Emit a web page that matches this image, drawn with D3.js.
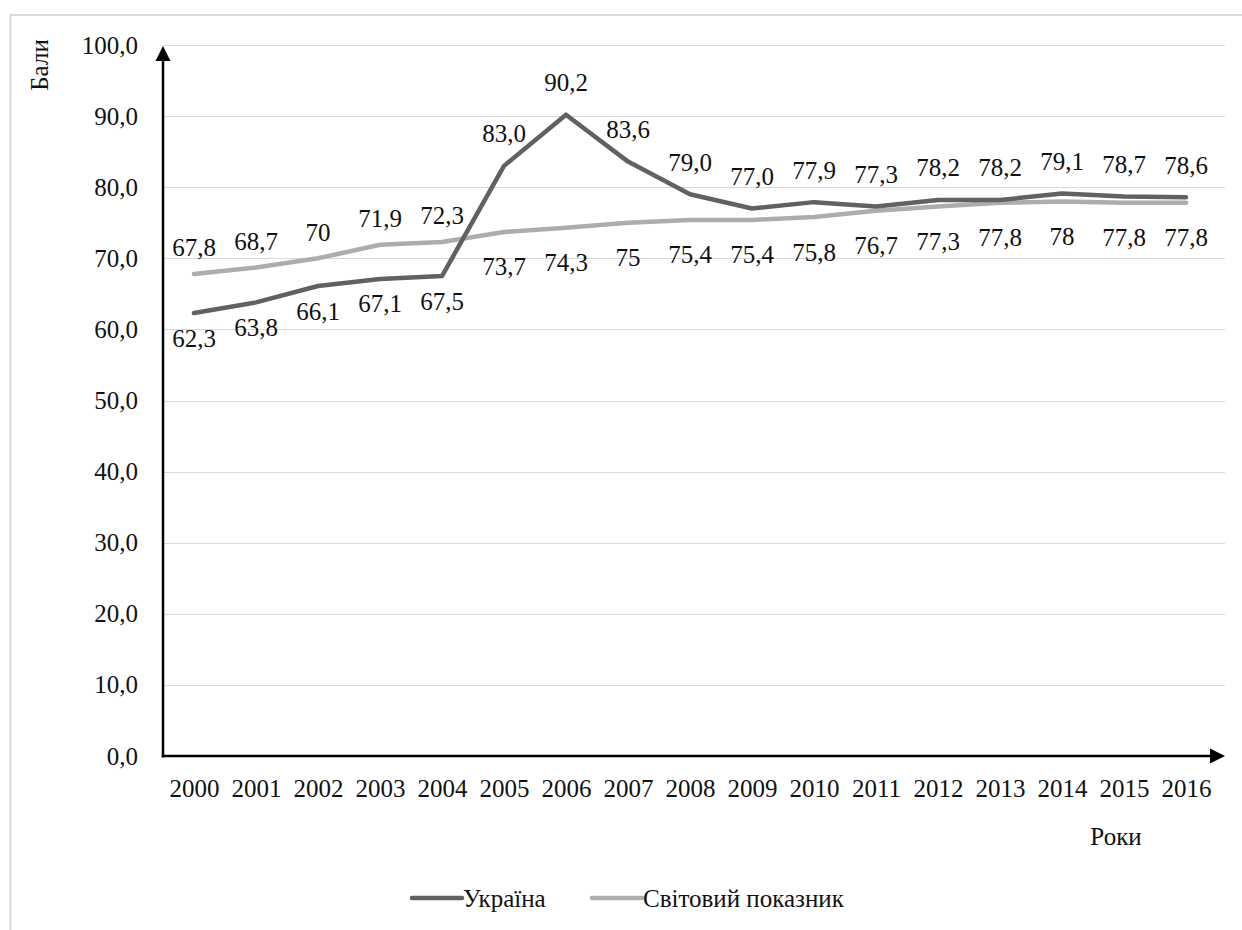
<!DOCTYPE html>
<html>
<head>
<meta charset="utf-8">
<script src="https://cdn.jsdelivr.net/npm/d3@7"></script>
<style>
  html, body { margin: 0; padding: 0; background: #fff; }
  svg { display: block; }
  svg text { font-family: 'Liberation Serif', 'Times New Roman', Tinos, 'Nimbus Roman', 'DejaVu Serif', serif !important; fill: #111; }
</style>
</head>
<body>
<svg id="chart" width="1242" height="930"></svg>
<script>
// ---- data ----
const years = ["2000","2001","2002","2003","2004","2005","2006","2007","2008","2009","2010","2011","2012","2013","2014","2015","2016"];
const ukraine = [62.3, 63.8, 66.1, 67.1, 67.5, 83.0, 90.2, 83.6, 79.0, 77.0, 77.9, 77.3, 78.2, 78.2, 79.1, 78.7, 78.6];
const world = [67.8, 68.7, 70, 71.9, 72.3, 73.7, 74.3, 75, 75.4, 75.4, 75.8, 76.7, 77.3, 77.8, 78, 77.8, 77.8];
const ukraineLabels = ["62,3","63,8","66,1","67,1","67,5","83,0","90,2","83,6","79,0","77,0","77,9","77,3","78,2","78,2","79,1","78,7","78,6"];
const worldLabels = ["67,8","68,7","70","71,9","72,3","73,7","74,3","75","75,4","75,4","75,8","76,7","77,3","77,8","78","77,8","77,8"];
const yTicks = [0, 10, 20, 30, 40, 50, 60, 70, 80, 90, 100];
const seriesNames = ["Україна", "Світовий показник"];

// ---- layout ----
const FONT = "'Liberation Serif', 'Times New Roman', Tinos, 'Nimbus Roman', 'DejaVu Serif', serif";
const svg = d3.select("#chart").attr("font-family", FONT);
const plotLeft = 163, plotRight = 1225, plotTop = 45, plotBottom = 756;
const x = d3.scalePoint().domain(years).range([194, 1186]);
const y = d3.scaleLinear().domain([0, 100]).range([plotBottom, plotTop]);
const fmt = v => d3.format(".1f")(v).replace(".", ",");
const colors = ["#616161", "#adadad"];

// outer frame (cropped)
svg.append("rect").attr("x", 10.5).attr("y", 15).attr("width", 1300).attr("height", 1000)
  .attr("fill", "none").attr("stroke", "#d9d9d9").attr("stroke-width", 2);

// gridlines
svg.append("g").selectAll("line").data(yTicks.filter(d => d > 0)).join("line")
  .attr("x1", plotLeft).attr("x2", plotRight)
  .attr("y1", d => Math.round(y(d)) + 0.5).attr("y2", d => Math.round(y(d)) + 0.5)
  .attr("stroke", "#d9d9d9").attr("stroke-width", 1);

// y tick labels
svg.append("g").selectAll("text").data(yTicks).join("text")
  .attr("x", 138).attr("y", d => y(d) + 8.5)
  .attr("text-anchor", "end").attr("font-size", 25).attr("font-family", FONT)
  .text(d => fmt(d));

// x tick labels via axis
const xAxis = svg.append("g").attr("transform", `translate(0,${plotBottom})`)
  .call(d3.axisBottom(x).tickSize(0).tickPadding(0));
xAxis.attr("font-family", FONT).attr("font-size", 25);
xAxis.select(".domain").remove();
xAxis.selectAll("text").attr("font-size", 25).attr("font-family", FONT)
  .attr("fill", "#111").attr("dy", null).attr("y", 41);

// series lines
const line = d3.line().x((d, i) => x(years[i])).y(d => y(d));
[world, ukraine].forEach((s, k) => {
  svg.append("path").datum(s).attr("d", line)
    .attr("fill", "none").attr("stroke", k === 0 ? colors[1] : colors[0])
    .attr("stroke-width", 4.5).attr("stroke-linejoin", "round").attr("stroke-linecap", "round");
});

// axes with arrows
svg.append("line").attr("x1", plotLeft).attr("x2", plotLeft).attr("y1", plotBottom + 1.5).attr("y2", plotTop + 12)
  .attr("stroke", "#000").attr("stroke-width", 2.5);
svg.append("line").attr("x1", plotLeft - 1.25).attr("x2", plotRight - 12).attr("y1", plotBottom).attr("y2", plotBottom)
  .attr("stroke", "#000").attr("stroke-width", 2.5);
svg.append("path").attr("d", `M${plotLeft},${plotTop + 1} L${plotLeft - 7.5},${plotTop + 16} L${plotLeft + 7.5},${plotTop + 16} Z`).attr("fill", "#000");
svg.append("path").attr("d", `M${plotRight},${plotBottom} L${plotRight - 15},${plotBottom - 7.5} L${plotRight - 15},${plotBottom + 7.5} Z`).attr("fill", "#000");

// data labels
svg.append("g").selectAll("text").data(ukraine).join("text")
  .attr("x", (d, i) => x(years[i]))
  .attr("y", (d, i) => i < 5 ? y(d) + 33.5 : y(d) - 23.5)
  .attr("text-anchor", "middle").attr("font-size", 25).attr("font-family", FONT)
  .text((d, i) => ukraineLabels[i]);
svg.append("g").selectAll("text").data(world).join("text")
  .attr("x", (d, i) => x(years[i]))
  .attr("y", (d, i) => i < 5 ? y(d) - 17.5 : y(d) + 43.5)
  .attr("text-anchor", "middle").attr("font-size", 25).attr("font-family", FONT)
  .text((d, i) => worldLabels[i]);

// axis titles
svg.append("text").attr("transform", "translate(48,65) rotate(-90)")
  .attr("text-anchor", "middle").attr("font-size", 25).attr("font-family", FONT).text("Бали");
svg.append("text").attr("x", 1116).attr("y", 845)
  .attr("text-anchor", "middle").attr("font-size", 25).attr("font-family", FONT).text("Роки");

// legend
const legendItems = [{ x: 412, name: seriesNames[0], color: colors[0] }, { x: 592, name: seriesNames[1], color: colors[1] }];
const lg = svg.append("g").selectAll("g").data(legendItems).join("g");
lg.append("line").attr("x1", d => d.x).attr("x2", d => d.x + 50).attr("y1", 898).attr("y2", 898)
  .attr("stroke", d => d.color).attr("stroke-width", 4.5).attr("stroke-linecap", "round");
lg.append("text").attr("x", d => d.x + 51).attr("y", 907).attr("font-size", 25).attr("font-family", FONT).text(d => d.name);
</script>
</body>
</html>
